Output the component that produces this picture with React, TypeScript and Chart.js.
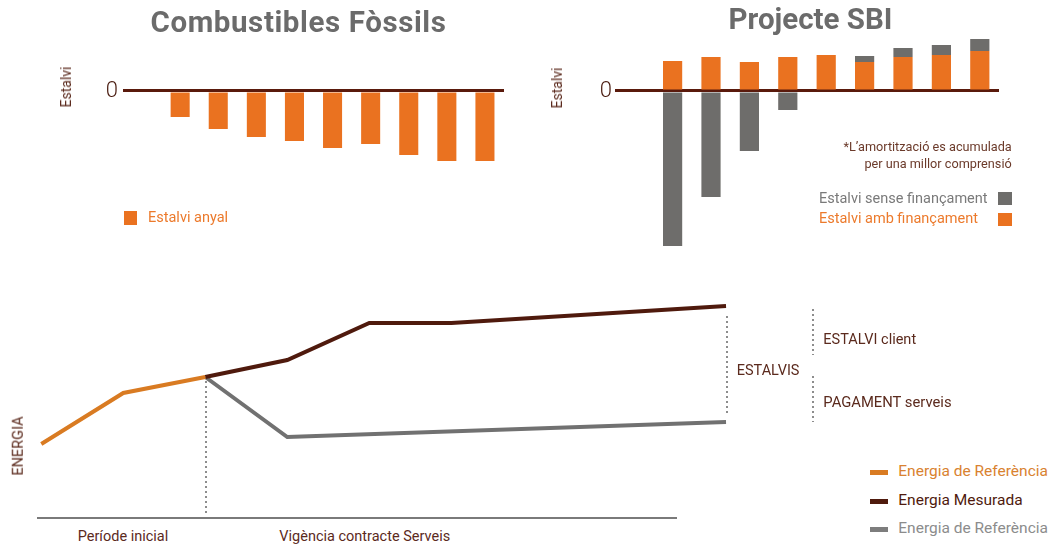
import React, { useEffect, useRef } from 'react';
import { Chart, registerables } from 'chart.js';

Chart.register(...registerables);

// ---------- data ----------
const yearLabels = ['Any 0', 'Any 1', 'Any 2', 'Any 3', 'Any 4', 'Any 5', 'Any 6', 'Any 7', 'Any 8', 'Any 9'];
const fossilAnnualSaving = [null, -2.6, -3.8, -4.6, -5.0, -5.7, -5.3, -6.4, -7.0, -7.0];
const sbiSavingWithFinancing = [null, 3.0, 3.4, 2.9, 3.4, 3.6, 2.9, 3.4, 3.6, 4.0];
const sbiSavingWithoutFinancing = [null, -15.5, -10.6, -6.0, -1.9, 0, 0.6, 0.9, 1.0, 1.2];
const savingAxisTicks = [0];

const energyPeriods = [0, 1, 2, 3, 4, 5, 8.35];
const energyReferenceInitial = [7.4, 12.5, 14.1, null, null, null, null];
const energyMeasured = [null, null, 14.1, 15.8, 19.5, 19.5, 21.2];
const energyReferenceContract = [null, null, 14.1, 8.1, null, null, 9.6];

// ---------- styles ----------
const FONT = "Roboto, 'Open Sans', sans-serif";
const BAR_ORANGE = '#ea7220';
const BAR_GREY = '#6e6d6b';
const ZERO_LINE = '#5a1a0c';
const TEXT_BROWN = '#5b2a1d';
const LINE_ORANGE = '#d97b22';
const LINE_BROWN = '#4f1a0d';
const LINE_GREY = '#717171';
const DOT_GREY = '#8d8d8d';
const TITLE_GREY = '#6b6b6b';

function savingScale(axisWidth: number, tickPadding: number) {
  return {
    min: -16,
    max: 6,
    z: 1,
    afterBuildTicks: (axis: any) => {
      axis.ticks = savingAxisTicks.map((v) => ({ value: v }));
    },
    afterFit: (axis: any) => {
      axis.width = axisWidth;
      axis.paddingTop = 0;
      axis.paddingBottom = 0;
    },
    ticks: {
      padding: tickPadding,
      color: '#4a1c10',
      font: { family: FONT, size: 22, weight: 300 },
      callback: (v: any) => String(v),
    },
    grid: { color: ZERO_LINE, lineWidth: 3, drawTicks: false },
    border: { display: false },
  };
}

const energyGuides = {
  id: 'energyGuides',
  afterDatasetsDraw(chart: any) {
    const { ctx, scales } = chart;
    const x = scales.x;
    const y = scales.y;
    const seg = (x1: number, y1: number, x2: number, y2: number) => {
      ctx.beginPath();
      ctx.moveTo(x1, y1);
      ctx.lineTo(x2, y2);
      ctx.stroke();
    };
    ctx.save();
    ctx.strokeStyle = DOT_GREY;
    ctx.lineWidth = 2;
    ctx.setLineDash([2, 3]);
    // start of the service contract
    const xs = Math.round(x.getPixelForValue(energyPeriods[2])) + 1;
    seg(xs, y.getPixelForValue(energyReferenceInitial[2] as number) + 4, xs, y.getPixelForValue(0) - 2);
    // savings gap at the end
    const last = energyPeriods.length - 1;
    const xe = Math.round(x.getPixelForValue(energyPeriods[last])) + 1;
    const yTop = y.getPixelForValue(energyMeasured[last] as number);
    const yBot = y.getPixelForValue(energyReferenceContract[last] as number);
    seg(xe, yTop + 10, xe, yBot - 9);
    // bracket splitting savings
    const xb = xe + 86;
    seg(xb, yTop + 3, xb, yTop + 49);
    seg(xb, yBot - 46, xb, yBot);
    ctx.restore();
  },
};

function toPoints(values: (number | null)[]) {
  return energyPeriods.map((x, i) => ({ x, y: values[i] }));
}

type TxtProps = {
  x: number;
  y: number;
  size?: number;
  color?: string;
  weight?: number;
  align?: 'left' | 'right' | 'center';
  rotate?: boolean;
  spacing?: number;
  children: React.ReactNode;
};

function Txt({ x, y, size = 14, color = TEXT_BROWN, weight = 400, align = 'left', rotate = false, spacing = 0, children }: TxtProps) {
  const style: React.CSSProperties = {
    position: 'absolute',
    top: y,
    fontSize: size,
    lineHeight: 1,
    color,
    fontWeight: weight,
    whiteSpace: 'nowrap',
    fontFamily: FONT,
    letterSpacing: spacing,
  };
  if (rotate) {
    style.left = x;
    style.transform = 'translate(-50%, -50%) rotate(-90deg)';
  } else if (align === 'left') {
    style.left = x;
    style.transform = 'translateY(-50%)';
  } else if (align === 'right') {
    style.right = 1056 - x;
    style.transform = 'translateY(-50%)';
  } else {
    style.left = x;
    style.transform = 'translate(-50%, -50%)';
  }
  return <div style={style}>{children}</div>;
}

function Box({ x, y, w, h, color }: { x: number; y: number; w: number; h: number; color: string }) {
  return <div style={{ position: 'absolute', left: x, top: y, width: w, height: h, background: color }} />;
}

export default function App() {
  const fossilRef = useRef<HTMLCanvasElement>(null);
  const sbiRef = useRef<HTMLCanvasElement>(null);
  const energyRef = useRef<HTMLCanvasElement>(null);

  useEffect(() => {
    const charts: Chart[] = [];

    charts.push(
      new Chart(fossilRef.current as HTMLCanvasElement, {
        type: 'bar',
        data: {
          labels: yearLabels,
          datasets: [
            {
              label: 'Estalvi anyal',
              data: fossilAnnualSaving as any,
              backgroundColor: BAR_ORANGE,
              barPercentage: 0.5,
              categoryPercentage: 1,
            },
          ],
        },
        options: {
          animation: false,
          responsive: false,
          layout: { padding: 0 },
          plugins: { legend: { display: false }, tooltip: { enabled: false }, title: { display: false } },
          scales: {
            x: { display: false },
            y: savingScale(123, 5) as any,
          },
        },
      })
    );

    charts.push(
      new Chart(sbiRef.current as HTMLCanvasElement, {
        type: 'bar',
        data: {
          labels: yearLabels,
          datasets: [
            {
              label: 'Estalvi amb finançament',
              data: sbiSavingWithFinancing as any,
              backgroundColor: BAR_ORANGE,
              barPercentage: 0.5,
              categoryPercentage: 1,
            },
            {
              label: 'Estalvi sense finançament',
              data: sbiSavingWithoutFinancing as any,
              backgroundColor: BAR_GREY,
              barPercentage: 0.5,
              categoryPercentage: 1,
            },
          ],
        },
        options: {
          animation: false,
          responsive: false,
          layout: { padding: 0 },
          plugins: { legend: { display: false }, tooltip: { enabled: false }, title: { display: false } },
          scales: {
            x: { display: false, stacked: true },
            y: { ...(savingScale(75, 3) as any), stacked: true },
          },
        },
      })
    );

    charts.push(
      new Chart(energyRef.current as HTMLCanvasElement, {
        type: 'line',
        data: {
          datasets: [
            {
              label: 'Energia de Referència',
              data: toPoints(energyReferenceInitial) as any,
              borderColor: LINE_ORANGE,
              borderWidth: 4,
              pointRadius: 0,
              clip: false as any,
            },
            {
              label: 'Energia Mesurada',
              data: toPoints(energyMeasured) as any,
              borderColor: LINE_BROWN,
              borderWidth: 4,
              pointRadius: 0,
              clip: false as any,
            },
            {
              label: 'Energia de Referència',
              data: toPoints(energyReferenceContract) as any,
              borderColor: LINE_GREY,
              borderWidth: 4,
              pointRadius: 0,
              spanGaps: true,
              clip: false as any,
            },
          ],
        },
        options: {
          animation: false,
          responsive: false,
          layout: { padding: { left: 38, right: 154, top: 0, bottom: 5 } },
          plugins: { legend: { display: false }, tooltip: { enabled: false }, title: { display: false } },
          scales: {
            x: {
              type: 'linear',
              min: -0.04,
              max: 7.74,
              afterFit: (axis: any) => {
                axis.height = 0;
              },
              ticks: { display: false },
              grid: { display: false, drawTicks: false },
              border: { display: true, color: '#7a7a7a', width: 2 },
            },
            y: { display: false, min: 0, max: 24 },
          },
        },
        plugins: [energyGuides],
      })
    );

    return () => charts.forEach((c) => c.destroy());
  }, []);

  return (
    <div
      style={{
        position: 'absolute',
        left: 0,
        top: 0,
        width: 1056,
        height: 545,
        overflow: 'hidden',
        background: '#ffffff',
        fontFamily: FONT,
      }}
    >
      <canvas ref={fossilRef} width={504} height={220} style={{ position: 'absolute', left: 0, top: 31, width: 504, height: 220 }} />
      <canvas ref={sbiRef} width={459} height={220} style={{ position: 'absolute', left: 540, top: 31, width: 459, height: 220 }} />
      <canvas ref={energyRef} width={830} height={245} style={{ position: 'absolute', left: 0, top: 278, width: 830, height: 245 }} />

      <Txt x={298.5} y={22.5} size={29.5} weight={700} color={TITLE_GREY} align="center" spacing={0.6}>Combustibles Fòssils</Txt>
      <Txt x={810.5} y={20} size={29.5} weight={700} color={TITLE_GREY} align="center">Projecte SBI</Txt>

      <Txt x={65.5} y={87} size={14} rotate>Estalvi</Txt>
      <Txt x={557} y={88} size={14} rotate>Estalvi</Txt>

      <Box x={124} y={211} w={13} h={14} color={BAR_ORANGE} />
      <Txt x={148} y={218} size={14.5} color="#ec7a2c">Estalvi anyal</Txt>

      <Txt x={1011.7} y={147} size={12.7} color="#6b3a2a" align="right">*L’amortització es acumulada</Txt>
      <Txt x={1011.7} y={163.5} size={12.7} color="#6b3a2a" align="right">per una millor comprensió</Txt>

      <Txt x={819} y={198.5} size={14.5} color="#7a7a7a">Estalvi sense finançament</Txt>
      <Box x={998} y={192} w={14} h={13} color={BAR_GREY} />
      <Txt x={819} y={219} size={14.5} color="#ec7a2c">Estalvi amb finançament</Txt>
      <Box x={998} y={213} w={14} h={13} color={BAR_ORANGE} />

      <Txt x={19} y={446} size={14.5} rotate>ENERGIA</Txt>
      <Txt x={77.7} y={537} size={14.5}>Període inicial</Txt>
      <Txt x={279.3} y={537} size={14.5}>Vigència contracte Serveis</Txt>

      <Txt x={736.7} y={370.7} size={14.5}>ESTALVIS</Txt>
      <Txt x={823.3} y={340} size={14.5}>ESTALVI client</Txt>
      <Txt x={823.3} y={401.7} size={14.8}>PAGAMENT serveis</Txt>

      <Box x={870} y={470} w={18} h={5} color={LINE_ORANGE} />
      <Txt x={898.3} y={472.3} size={15.5} color="#d98230">Energia de Referència</Txt>
      <Box x={870} y={498.5} w={18} h={5} color={LINE_BROWN} />
      <Txt x={898.3} y={500.7} size={15.5} color="#4f1a0d">Energia Mesurada</Txt>
      <Box x={870} y={527} w={18} h={5} color="#7d7d7d" />
      <Txt x={898.3} y={529.3} size={15.5} color="#8c8c8c">Energia de Referència</Txt>
    </div>
  );
}
